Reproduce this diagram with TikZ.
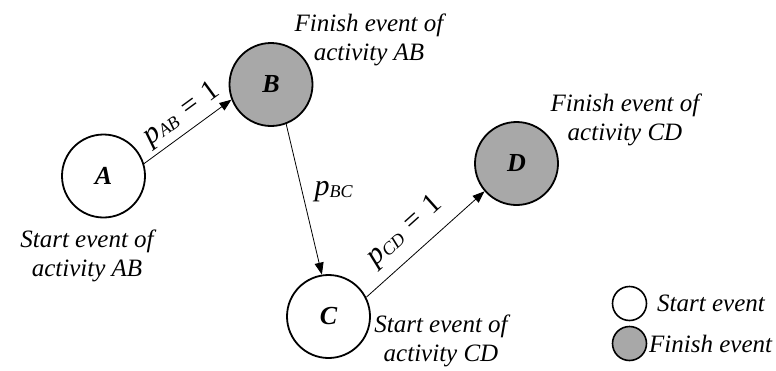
\documentclass[tikz,border=0pt]{standalone}
\usepackage{fontspec}
\setmainfont{Liberation Serif}
\usetikzlibrary{arrows.meta}
\definecolor{finishgray}{RGB}{168,168,168}
% probability label: large italic p with a smaller italic index
\newcommand{\prb}[1]{{\fontsize{30}{30}\selectfont\itshape p}\raisebox{-1.5pt}{\fontsize{18}{18}\selectfont\itshape #1}}
\begin{document}
\begin{tikzpicture}[x=1pt,y=-1pt,
  event/.style={circle,draw=black,line width=1.8pt,minimum size=83pt,inner sep=0pt,
    font=\fontsize{26}{28}\selectfont\bfseries\itshape},
  startev/.style={event,fill=white},
  finishev/.style={event,fill=finishgray},
  legendev/.style={circle,draw=black,line width=1.6pt,minimum size=34pt,inner sep=0pt},
  caption/.style={align=center,font=\fontsize{25}{28.5}\selectfont\itshape,inner sep=0pt},
  legendtext/.style={anchor=west,font=\fontsize{25}{28}\selectfont\itshape,inner sep=0pt},
  link/.style={line width=0.8pt,-{Triangle[length=12pt,width=9pt]}},
  prob/.style={font=\fontsize{29}{29}\selectfont,inner sep=0pt}
]
\useasboundingbox (0,0) rectangle (776,370);

% events
\node[startev]  (A) at (103.5,176) {A};
\node[finishev] (B) at (271,84.5)  {B};
\node[startev]  (C) at (328.5,316.5) {C};
\node[finishev] (D) at (516.5,163.5) {D};

% activities
\draw[link] (A.17)  -- (B.201) node[prob,pos=0.55,sloped,above=4pt] {\prb{AB}\,\,=\,\,1};
\draw[link] (B.-69) -- (C.99)  node[prob,pos=0.45,right=12pt] {\prb{BC}};
\draw[link] (C.27)  -- (D.221) node[prob,pos=0.46,sloped,above=10pt] {\prb{CD}\,\,=\,\,1};

% captions
\node[caption] (capA) at (87,256)  {Start event of\\activity AB};
\node[caption] (capB) at (369,40)  {Finish event of\\activity AB};
\node[caption] (capC) at (441,341) {Start event of\\activity CD};
\node[caption] (capD) at (625,120) {Finish event of\\activity CD};

% legend
\node[legendev,fill=white]      (ls) at (629.5,303.5) {};
\node[legendev,fill=finishgray] (lf) at (629.5,343.5) {};
\node[legendtext] (lst) at (657,303.5) {Start event};
\node[legendtext] (lft) at (649,343.5) {Finish event};
\end{tikzpicture}
\end{document}
